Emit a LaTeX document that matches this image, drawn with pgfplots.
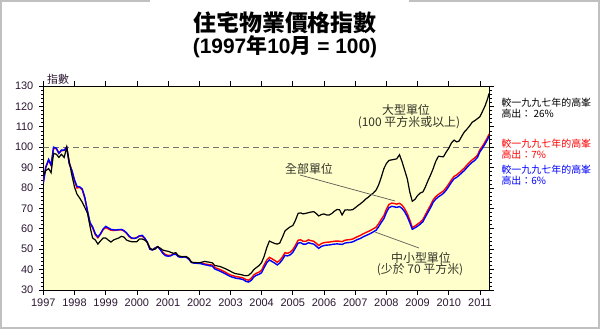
\documentclass[border=0pt]{standalone}
\usepackage{fontspec}
\setmainfont{Liberation Sans}
\newfontfamily\cjk{Noto Sans CJK TC}
\usepackage{pgfplots}
\pgfplotsset{compat=1.18}
\usepackage{pgfplotstable}
\definecolor{bgyellow}{RGB}{255,255,204}
\definecolor{framec}{RGB}{192,192,192}
\definecolor{ticktxt}{RGB}{45,25,50}
\definecolor{anno}{RGB}{50,50,40}

\pgfplotstableread{
x y
1997.00 86
1997.08 88.5
1997.17 89.5
1997.25 87.5
1997.33 97
1997.42 96.5
1997.50 95
1997.58 96.5
1997.67 95
1997.75 100
1997.83 93
1997.92 86
1998.00 80.5
1998.08 77
1998.17 75
1998.25 73
1998.33 70.5
1998.42 67.5
1998.50 61
1998.58 55.5
1998.67 54.5
1998.75 52.5
1998.83 54
1998.92 55.5
1999.00 55.5
1999.08 54.5
1999.17 53.5
1999.25 54.5
1999.33 55
1999.42 55.5
1999.50 56.3
1999.58 56
1999.67 54.5
1999.75 54
1999.83 53.7
1999.92 53.7
2000.00 53.7
2000.08 55
2000.17 55
2000.25 54.5
2000.33 53.5
2000.42 50.5
2000.50 49.8
2000.58 50
2000.67 51.2
2000.75 50.5
2000.83 49.6
2000.92 49.2
2001.00 49
2001.08 48.5
2001.17 48
2001.25 48.3
2001.33 46.8
2001.42 46.4
2001.50 46.3
2001.58 46.4
2001.67 45.5
2001.75 43.6
2001.83 43.5
2001.92 43.4
2002.00 43.4
2002.08 43.6
2002.17 44
2002.25 43.8
2002.33 43.6
2002.42 43.3
2002.50 42
2002.58 41.8
2002.67 41.5
2002.75 41
2002.83 40.5
2002.92 39.8
2003.00 39.2
2003.08 38.5
2003.17 38
2003.25 37.8
2003.33 37.6
2003.42 37.2
2003.50 37
2003.58 37.2
2003.67 38.4
2003.75 40
2003.83 41
2003.92 42
2004.00 43.5
2004.08 46.5
2004.17 51
2004.25 54
2004.33 53.4
2004.42 52.8
2004.50 52.5
2004.58 53
2004.67 56
2004.75 59
2004.83 60
2004.92 61
2005.00 61.6
2005.08 64
2005.17 67.6
2005.25 67.8
2005.33 67.3
2005.42 67.6
2005.50 67.9
2005.58 68.2
2005.67 68.4
2005.75 67.5
2005.83 66.3
2005.92 67
2006.00 67.3
2006.08 66.8
2006.17 66.8
2006.25 67.5
2006.33 68.6
2006.42 69.5
2006.50 69.3
2006.58 66.8
2006.67 69.2
2006.75 69.3
2006.83 69.2
2006.92 69.4
2007.00 70.3
2007.08 71.3
2007.17 72.3
2007.25 73.3
2007.33 74.5
2007.42 75.5
2007.50 76.6
2007.58 77.5
2007.67 79
2007.75 81.5
2007.83 85
2007.92 89.5
2008.00 92
2008.08 93.5
2008.17 93.8
2008.25 94
2008.33 94.3
2008.42 96.3
2008.50 93
2008.58 89
2008.67 84.5
2008.75 78
2008.83 73.5
2008.92 74.5
2009.00 76.3
2009.08 77.5
2009.17 78.1
2009.25 80.5
2009.33 83.5
2009.42 86.5
2009.50 89.5
2009.58 93
2009.67 95.6
2009.75 95.4
2009.83 95.3
2009.92 97.7
2010.00 99.5
2010.08 102
2010.17 103.5
2010.25 102.6
2010.33 103
2010.42 105.5
2010.50 107.5
2010.58 108.8
2010.67 110.5
2010.75 112.2
2010.83 113
2010.92 114
2011.00 115
2011.08 117.5
2011.17 120.5
2011.25 124
2011.29 126.3
}\largetab

\pgfplotstableread{
x y
1997.00 82.3
1997.08 90
1997.17 94
1997.25 91.3
1997.33 100
1997.42 99.5
1997.50 97
1997.58 98.6
1997.67 98.6
1997.75 100
1997.83 92
1997.92 88.5
1998.00 84
1998.08 80.8
1998.17 80.5
1998.25 79.5
1998.33 75.5
1998.42 68.5
1998.50 63
1998.58 61
1998.67 57.5
1998.75 56
1998.83 57.5
1998.92 60
1999.00 61.2
1999.08 60.5
1999.17 59.7
1999.25 59.5
1999.33 59.4
1999.42 59.6
1999.50 59.7
1999.58 59.2
1999.67 58
1999.75 56.5
1999.83 55.5
1999.92 55.3
2000.00 55.6
2000.08 56.5
2000.17 56.8
2000.25 55.5
2000.33 53.5
2000.42 50
2000.50 49.6
2000.58 50.5
2000.67 51.2
2000.75 49.8
2000.83 48
2000.92 46.8
2001.00 46.6
2001.08 46.7
2001.17 47.5
2001.25 47.5
2001.33 46.3
2001.42 46
2001.50 46.2
2001.58 46.1
2001.67 45
2001.75 43.5
2001.83 43.2
2001.92 43.1
2002.00 43
2002.08 42.8
2002.17 42.4
2002.25 42.2
2002.33 41.9
2002.42 41.7
2002.50 40.3
2002.58 39.8
2002.67 39.2
2002.75 38.6
2002.83 38
2002.92 37.2
2003.00 36.6
2003.08 36.2
2003.17 35.8
2003.25 35.6
2003.33 35.4
2003.42 35
2003.50 34.2
2003.58 33.9
2003.67 34.8
2003.75 36.4
2003.83 37.2
2003.92 37.7
2004.00 38.5
2004.08 41
2004.17 43.5
2004.25 44.7
2004.33 44
2004.42 43.2
2004.50 42.3
2004.58 43.2
2004.67 45
2004.75 47
2004.83 46.7
2004.92 47.3
2005.00 48.5
2005.08 50.5
2005.17 53
2005.25 53.2
2005.33 52.5
2005.42 52.5
2005.50 53.2
2005.58 52.8
2005.67 52.5
2005.75 51.5
2005.83 50.4
2005.92 51.4
2006.00 51.8
2006.08 52
2006.17 52.1
2006.25 52.3
2006.33 52.5
2006.42 52.6
2006.50 52.5
2006.58 52.3
2006.67 53
2006.75 53.2
2006.83 53.3
2006.92 53.6
2007.00 54.2
2007.08 54.8
2007.17 55.3
2007.25 56
2007.33 56.6
2007.42 57.2
2007.50 57.8
2007.58 58.5
2007.67 59.3
2007.75 61
2007.83 63
2007.92 65
2008.00 68
2008.08 70.3
2008.17 71
2008.25 70.8
2008.33 70.5
2008.42 70.9
2008.50 70
2008.58 68.5
2008.67 66
2008.75 63
2008.83 59.8
2008.92 60.5
2009.00 61.3
2009.08 62.2
2009.17 63.5
2009.25 65.8
2009.33 68
2009.42 70.5
2009.50 73
2009.58 74.5
2009.67 75.7
2009.75 76.5
2009.83 77.4
2009.92 79
2010.00 80.8
2010.08 82.7
2010.17 84.5
2010.25 85.2
2010.33 86.2
2010.42 87.5
2010.50 88.6
2010.58 90
2010.67 91.5
2010.75 92.6
2010.83 93.5
2010.92 95
2011.00 97.8
2011.08 99.5
2011.17 101.8
2011.25 104
2011.29 105.5
}\smalltab

\pgfplotstableread{
x y
1997.00 83
1997.08 90.5
1997.17 93.5
1997.25 91
1997.33 99.6
1997.42 99.2
1997.50 97
1997.58 98.3
1997.67 98.4
1997.75 100
1997.83 92.5
1997.92 88.3
1998.00 83.5
1998.08 80
1998.17 80.3
1998.25 79
1998.33 75
1998.42 68.3
1998.50 62.5
1998.58 60.5
1998.67 57
1998.75 55.6
1998.83 57.3
1998.92 59.6
1999.00 60.6
1999.08 60
1999.17 59.3
1999.25 59.2
1999.33 59.3
1999.42 59.5
1999.50 59.5
1999.58 59
1999.67 57.8
1999.75 56.2
1999.83 55.3
1999.92 55.3
2000.00 55.8
2000.08 56.5
2000.17 56.4
2000.25 55.3
2000.33 53.4
2000.42 50
2000.50 49.7
2000.58 50.6
2000.67 51.3
2000.75 50.1
2000.83 48.5
2000.92 47.3
2001.00 47
2001.08 47
2001.17 47.7
2001.25 47.8
2001.33 46.6
2001.42 46.2
2001.50 46.4
2001.58 46.3
2001.67 45.2
2001.75 43.6
2001.83 43.3
2001.92 43.2
2002.00 43.2
2002.08 43.1
2002.17 42.8
2002.25 42.6
2002.33 42.4
2002.42 42.2
2002.50 41
2002.58 40.5
2002.67 40
2002.75 39.4
2002.83 38.8
2002.92 38
2003.00 37.4
2003.08 37
2003.17 36.6
2003.25 36.4
2003.33 36.2
2003.42 35.8
2003.50 35.1
2003.58 34.8
2003.67 35.8
2003.75 37.4
2003.83 38.2
2003.92 38.8
2004.00 39.7
2004.08 42.3
2004.17 44.8
2004.25 46
2004.33 45.3
2004.42 44.5
2004.50 43.6
2004.58 44.5
2004.67 46.3
2004.75 48.3
2004.83 48
2004.92 48.6
2005.00 49.8
2005.08 51.8
2005.17 54.4
2005.25 54.6
2005.33 53.9
2005.42 53.9
2005.50 54.6
2005.58 54.2
2005.67 53.9
2005.75 52.9
2005.83 51.8
2005.92 52.8
2006.00 53.2
2006.08 53.4
2006.17 53.5
2006.25 53.7
2006.33 53.9
2006.42 54
2006.50 53.9
2006.58 53.7
2006.67 54.4
2006.75 54.6
2006.83 54.7
2006.92 55
2007.00 55.6
2007.08 56.2
2007.17 56.8
2007.25 57.5
2007.33 58.1
2007.42 58.7
2007.50 59.3
2007.58 60
2007.67 60.8
2007.75 62.5
2007.83 64.5
2007.92 66.5
2008.00 69.6
2008.08 71.9
2008.17 72.6
2008.25 72.4
2008.33 72.1
2008.42 72.5
2008.50 71.6
2008.58 70
2008.67 67.4
2008.75 64.3
2008.83 60.6
2008.92 61.4
2009.00 62.3
2009.08 63.2
2009.17 64.6
2009.25 66.9
2009.33 69.2
2009.42 71.7
2009.50 74.2
2009.58 75.7
2009.67 76.9
2009.75 77.7
2009.83 78.6
2009.92 80.2
2010.00 82
2010.08 83.9
2010.17 85.7
2010.25 86.4
2010.33 87.4
2010.42 88.7
2010.50 89.8
2010.58 91.2
2010.67 92.7
2010.75 93.8
2010.83 94.7
2010.92 96.1
2011.00 98.8
2011.08 100.5
2011.17 102.8
2011.25 105
2011.29 106.5
}\alltab

\begin{document}
\begin{tikzpicture}
\begin{scope}[x=1bp,y=1bp]
\useasboundingbox (0,0) rectangle (600,329);
\fill[white] (0,0) rectangle (600,329);
\draw[framec, line width=1.5bp] (150,328.2) -- (0.8,328.2) -- (0.8,0.8) -- (599.2,0.8) -- (599.2,328.2) -- (409,328.2);
\end{scope}

\begin{axis}[
  at={(43.3bp,39bp)}, anchor=south west,
  scale only axis, width=445.7bp, height=204bp,
  xmin=1997, xmax=2011.29, ymin=30, ymax=130,
  axis background/.style={fill=bgyellow},
  axis line style={black, line width=0.8bp},
  xtick={1997,1998,...,2011},
  ytick={30,40,...,130},
  minor x tick num=3, minor y tick num=4,
  tick align=outside,
  major tick length=4.5bp, minor tick length=2.5bp,
  tick style={black, line width=0.7bp},
  minor tick style={black, line width=0.6bp},
  /pgf/number format/assume math mode=true,
  /pgf/number format/1000 sep={},
  ticklabel style={font=\fontsize{11}{12}\selectfont, text=ticktxt},
  yticklabel style={xshift=-2bp},
  xticklabel style={yshift=-0.5bp},
  clip=true,
]
\addplot[gray!90!black, dashed, dash pattern=on 6bp off 4bp, line width=0.9bp] coordinates {(1997,100) (2011.29,100)};
\addplot[red, line width=1.4bp] table {\alltab};
\addplot[blue, line width=1.4bp] table {\smalltab};
\addplot[black, line width=1.2bp] table {\largetab};
\end{axis}

\begin{scope}[x=1bp,y=1bp]
% title
\node[font=\cjk\bfseries\fontsize{23}{26}\selectfont] at (285,306) {住宅物業價格指數};
\node[font=\bfseries\fontsize{21}{24}\selectfont] at (285,282) {(1997{\cjk 年}10{\cjk 月} = 100)};

% y-axis unit
\node[font=\cjk\fontsize{11}{12}\selectfont, text=ticktxt] at (58,250) {指數};

% annotations
\node[font=\cjk\fontsize{12}{13}\selectfont, text=anno] at (406,219) {大型單位};
\node[font=\cjk\fontsize{12}{13}\selectfont, text=anno] at (409,206.5) {(100 平方米或以上)};
\node[font=\cjk\fontsize{12}{13}\selectfont, text=anno] at (309,160) {全部單位};
\draw[anno!80, line width=0.7bp] (300,154) -- (395,128);
\node[font=\cjk\fontsize{12}{13}\selectfont, text=anno] at (421,71) {中小型單位};
\node[font=\cjk\fontsize{12}{13}\selectfont, text=anno] at (420,59) {(少於 70 平方米)};
\draw[anno!80, line width=0.7bp] (375,97) -- (419,81);

% right notes
\node[font=\cjk\fontsize{10}{11}\selectfont, anchor=west, text=black] at (498,226) {較一九九七年的高峯};
\node[font=\cjk\fontsize{10}{11}\selectfont, anchor=west, text=black] at (498,215.5) {高出： 26\%};
\node[font=\cjk\fontsize{10}{11}\selectfont, anchor=west, text=red] at (498,185) {較一九九七年的高峯};
\node[font=\cjk\fontsize{10}{11}\selectfont, anchor=west, text=red] at (498,174.5) {高出：7\%};
\node[font=\cjk\fontsize{10}{11}\selectfont, anchor=west, text=blue] at (498,159) {較一九九七年的高峯};
\node[font=\cjk\fontsize{10}{11}\selectfont, anchor=west, text=blue] at (498,148.5) {高出：6\%};
\end{scope}
\end{tikzpicture}
\end{document}
